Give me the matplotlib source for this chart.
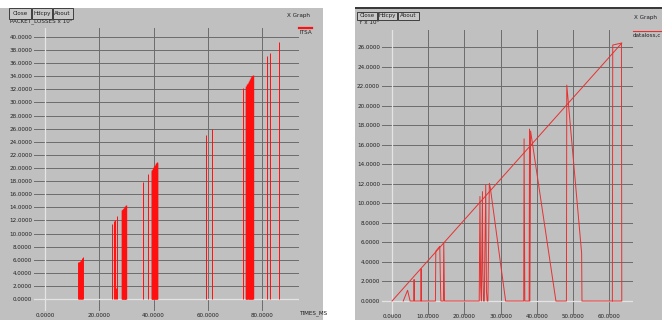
import matplotlib
matplotlib.use("Agg")
import matplotlib.pyplot as plt
from matplotlib.patches import Rectangle
from matplotlib.lines import Line2D

# ---------------- data ----------------
# left graph: PACKET_LOSSES (x 10^3) vs TIMES_MS, drawn as bars
left_thin_x = [12.2, 12.4, 12.6, 12.8, 13.0, 13.2, 13.4, 13.6, 13.8, 14.0,
               24.8, 25.4, 25.9, 26.2, 26.6,
               36.1, 38.0, 59.5, 61.4, 73.0, 81.9, 83.0, 86.3]
left_thin_h = [5.6, 5.6, 5.6, 5.7, 5.8, 5.9, 6.0, 6.1, 6.3, 6.4,
               11.4, 11.9, 12.0, 1.7, 12.6,
               17.9, 19.1, 25.0, 26.0, 32.2, 37.1, 37.6, 39.2]
left_dense_x = [28.4, 28.55, 28.7, 28.85, 29.0, 29.15, 29.3, 29.45, 29.6, 29.7,
                39.3, 39.45, 39.6, 39.75, 39.9, 40.05, 40.2, 40.35, 40.5, 40.65, 40.8, 40.95, 41.1, 41.2,
                74.0, 74.2, 74.4, 74.6, 74.8, 75.0, 75.2, 75.4, 75.6, 75.8, 76.0, 76.2, 76.4, 76.5]
left_dense_h = [13.6, 13.65, 13.7, 13.8, 13.85, 13.9, 14.0, 14.1, 14.2, 14.3,
                19.6, 19.7, 19.75, 19.85, 19.95, 20.05, 20.15, 20.25, 20.35, 20.5, 20.6, 20.7, 20.8, 20.9,
                32.4, 32.55, 32.7, 32.85, 33.0, 33.15, 33.3, 33.45, 33.6, 33.75, 33.9, 34.0, 34.1, 34.2]
left_xticks = [0, 20, 40, 60, 80]
left_yticks = list(range(0, 41, 2))

# right graph: dataloss vs time
right_x = [3.1, 4.3, 5.0, 6.0, 6.1, 6.2, 8.0, 8.05, 8.1, 12.0,
           12.1, 13.2, 13.4, 13.5, 14.2, 14.3, 14.5, 24.1, 24.3, 24.5,
           24.7, 25.0, 25.1, 25.3, 25.5, 25.9, 26.1, 26.3, 26.5, 26.9,
           27.2, 31.4, 36.4, 36.5, 36.7, 37.9, 38.0, 38.1, 38.3, 45.3,
           48.2, 48.3, 52.4, 52.5, 60.9, 61.0, 63.4, 63.5, 61.0]
right_y = [0, 1.1, 0, 0, 2.2, 0, 0, 3.3, 0, 0,
           5.1, 5.6, 1.5, 0, 0, 6.0, 0, 0, 10.7, 1.5,
           0, 11.2, 3.0, 0, 0, 11.9, 1.0, 0, 0, 12.05,
           11.5, 0, 0, 16.6, 0, 0, 17.6, 0, 17.4, 0,
           0, 22.1, 4.9, 0, 0, 26.2, 26.4, 0, 0]
diag_x = [0, 63.5]
diag_y = [0, 26.4]
right_xticks = [0, 10, 20, 30, 40, 50, 60]
right_yticks = list(range(0, 27, 2))

# ---------------- figure ----------------
W, H = 662, 320
fig = plt.figure(figsize=(W / 100, H / 100), dpi=100)
fig.patch.set_facecolor("white")

GREY = "#c0c0c0"
GRID = "#6c6c6c"
ZERO = "#e4e4e4"
RED = "#ff1010"
FONT = dict(family="DejaVu Sans", size=4.1, color="#202020")


def fx(x):
    return x / W


def fy(y):
    return 1 - y / H


# window backgrounds
fig.add_artist(Rectangle((0, 0), fx(323), fy(7.5), transform=fig.transFigure,
                         facecolor=GREY, edgecolor="none", zorder=0))
fig.add_artist(Rectangle((fx(355), 0), fx(W - 355), fy(8.5), transform=fig.transFigure,
                         facecolor=GREY, edgecolor="none", zorder=0))
fig.add_artist(Rectangle((fx(355), fy(9)), fx(W - 355), 2.2 / H, transform=fig.transFigure,
                         facecolor="#3a3a3a", edgecolor="none", zorder=0))


def buttons(x0, y0, y1, widths):
    x = x0
    for lab, w in widths:
        fig.add_artist(Rectangle((fx(x), fy(y1)), w / W, (y1 - y0) / H, transform=fig.transFigure,
                                 facecolor="#c8c8c8", edgecolor="#2a2a2a", lw=0.6, zorder=5))
        fig.text(fx(x + w / 2), fy((y0 + y1) / 2), lab, ha="center", va="center",
                 zorder=6, **FONT)
        x += w + 1


def setup(ax, xlim, ylim, xt, yt):
    ax.set_facecolor("none")
    ax.set_xlim(*xlim)
    ax.set_ylim(*ylim)
    for s in ax.spines.values():
        s.set_visible(False)
    ax.set_xticks(xt)
    ax.set_yticks(yt)
    ax.set_xticklabels(["%.4f" % v for v in xt], fontdict=FONT)
    ax.set_yticklabels(["%.4f" % v for v in yt], fontdict=FONT)
    ax.tick_params(length=0, pad=1.2)
    ax.set_axisbelow(True)
    ax.grid(True, color=GRID, lw=0.7)
    ax.axhline(0, color=ZERO, lw=0.9, zorder=1.5)
    ax.axvline(0, color=ZERO, lw=0.9, zorder=1.5)


# ---------- left graph ----------
axL = fig.add_axes([fx(34), fy(311), (299 - 34) / W, (311 - 28) / H])
setup(axL, (-4.05, 93.6), (-1.83, 41.37), left_xticks, left_yticks)
axL.tick_params(axis="x", pad=1.6)
axL.vlines(left_thin_x, 0, left_thin_h, color=RED, lw=0.7, zorder=3)
axL.vlines(left_dense_x, 0, left_dense_h, color=RED, lw=1.0, zorder=3)

buttons(9, 8, 19, [("Close", 22), ("Hdcpy", 19.5), ("About", 20.5)])
fig.text(fx(10), fy(21), "PACKET_LOSSES x 10\u00b3", ha="left", va="center", zorder=4, **FONT)
fig.text(fx(287), fy(16), "X Graph", ha="left", va="center", **FONT)
fig.add_artist(Line2D([fx(299), fx(312)], [fy(28), fy(28)], transform=fig.transFigure,
                      color=RED, lw=1.6))
fig.text(fx(299), fy(33), "ITSA", ha="left", va="center", **FONT)
fig.text(fx(300), fy(313), "TIMES_MS", ha="left", va="center", **FONT)

# ---------- right graph ----------
axR = fig.add_axes([fx(381.7), fy(315), (633 - 381.7) / W, (315 - 30) / H])
setup(axR, (-2.85, 66.6), (-1.43, 27.74), right_xticks, right_yticks)
axR.tick_params(axis="x", pad=-0.6)
axR.plot(diag_x, diag_y, color="#e83030", lw=0.7, zorder=3)
axR.plot(right_x, right_y, color="#e83030", lw=0.7, zorder=3)

buttons(357.3, 11.7, 20, [("Close", 19.5), ("Hdcpy", 19), ("About", 21)])
fig.text(fx(359), fy(22.5), "Y x 10\u00b3", ha="left", va="center", zorder=4, **FONT)
fig.text(fx(634), fy(18), "X Graph", ha="left", va="center", **FONT)
fig.add_artist(Line2D([fx(633), fx(662)], [fy(30.5), fy(30.5)], transform=fig.transFigure,
                      color="#e83030", lw=0.8))
fig.text(fx(633), fy(35), "dataloss,c", ha="left", va="center", **FONT)

fig.savefig("out.png", dpi=100, facecolor=fig.get_facecolor())
